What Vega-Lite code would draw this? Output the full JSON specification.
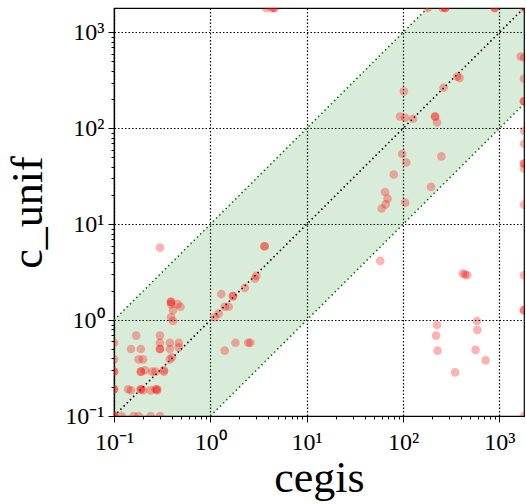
{
  "$schema": "https://vega.github.io/schema/vega-lite/v6.json",
  "width": 410,
  "height": 408,
  "autosize": {"type": "none"},
  "padding": {"left": 114, "top": 8, "right": 2, "bottom": 88},
  "background": "white",
  "config": {
    "view": {"stroke": "black", "strokeWidth": 1.2},
    "axis": {
      "domainColor": "black",
      "domainWidth": 1.2,
      "tickColor": "black",
      "labelFont": "Liberation Serif",
      "labelFontSize": 24,
      "labelColor": "black",
      "titleFont": "Liberation Serif",
      "titleFontSize": 44,
      "titleFontWeight": "normal",
      "titleColor": "black",
      "gridColor": "black",
      "gridDash": [1.5, 2],
      "gridWidth": 1.2
    }
  },
  "datasets": {
    "points": [
      {"cegis": 3.8, "c_unif": 1800}, {"cegis": 4.3, "c_unif": 1800}, {"cegis": 4.6, "c_unif": 1800}, {"cegis": 4.6, "c_unif": 1800},
      {"cegis": 181, "c_unif": 1800}, {"cegis": 257, "c_unif": 1800}, {"cegis": 274, "c_unif": 1800}, {"cegis": 274, "c_unif": 1800},
      {"cegis": 890, "c_unif": 1800}, {"cegis": 900, "c_unif": 1800}, {"cegis": 1800, "c_unif": 1800},
      {"cegis": 1660, "c_unif": 562}, {"cegis": 1800, "c_unif": 545}, {"cegis": 1800, "c_unif": 330},
      {"cegis": 1800, "c_unif": 192}, {"cegis": 1800, "c_unif": 192}, {"cegis": 1800, "c_unif": 94},
      {"cegis": 1800, "c_unif": 69}, {"cegis": 1800, "c_unif": 43}, {"cegis": 1800, "c_unif": 43},
      {"cegis": 1800, "c_unif": 38}, {"cegis": 1800, "c_unif": 16}, {"cegis": 1800, "c_unif": 2.94},
      {"cegis": 1800, "c_unif": 1.27}, {"cegis": 1800, "c_unif": 1.27}, {"cegis": 1800, "c_unif": 0.1},
      {"cegis": 365, "c_unif": 347}, {"cegis": 386, "c_unif": 336}, {"cegis": 263, "c_unif": 265},
      {"cegis": 102, "c_unif": 243}, {"cegis": 93, "c_unif": 133}, {"cegis": 105, "c_unif": 129},
      {"cegis": 127, "c_unif": 126}, {"cegis": 215, "c_unif": 133}, {"cegis": 215, "c_unif": 133},
      {"cegis": 225, "c_unif": 115}, {"cegis": 98, "c_unif": 54}, {"cegis": 108, "c_unif": 44},
      {"cegis": 250, "c_unif": 51}, {"cegis": 80, "c_unif": 33}, {"cegis": 65, "c_unif": 21.7},
      {"cegis": 69, "c_unif": 18.5}, {"cegis": 66, "c_unif": 16.1}, {"cegis": 60, "c_unif": 14.6},
      {"cegis": 105, "c_unif": 16.8}, {"cegis": 195, "c_unif": 24.5}, {"cegis": 58, "c_unif": 4.15},
      {"cegis": 417, "c_unif": 3.06}, {"cegis": 464, "c_unif": 2.94}, {"cegis": 440, "c_unif": 3.0},
      {"cegis": 586, "c_unif": 0.98}, {"cegis": 225, "c_unif": 0.89}, {"cegis": 220, "c_unif": 0.69},
      {"cegis": 228, "c_unif": 0.48}, {"cegis": 590, "c_unif": 0.79}, {"cegis": 566, "c_unif": 0.49},
      {"cegis": 720, "c_unif": 0.38}, {"cegis": 347, "c_unif": 0.285},
      {"cegis": 0.30, "c_unif": 5.7}, {"cegis": 3.65, "c_unif": 5.9}, {"cegis": 3.65, "c_unif": 5.9},
      {"cegis": 3.0, "c_unif": 2.9}, {"cegis": 2.9, "c_unif": 2.7}, {"cegis": 2.28, "c_unif": 2.17},
      {"cegis": 1.72, "c_unif": 1.78}, {"cegis": 1.72, "c_unif": 1.78}, {"cegis": 1.30, "c_unif": 1.87},
      {"cegis": 1.55, "c_unif": 1.38}, {"cegis": 1.41, "c_unif": 1.38}, {"cegis": 1.22, "c_unif": 1.17},
      {"cegis": 1.11, "c_unif": 1.07}, {"cegis": 1.41, "c_unif": 0.48}, {"cegis": 1.82, "c_unif": 0.58},
      {"cegis": 2.47, "c_unif": 0.58}, {"cegis": 2.6, "c_unif": 0.58},
      {"cegis": 0.39, "c_unif": 1.55}, {"cegis": 0.39, "c_unif": 1.55}, {"cegis": 0.39, "c_unif": 1.47},
      {"cegis": 0.41, "c_unif": 1.27}, {"cegis": 0.49, "c_unif": 1.38}, {"cegis": 0.457, "c_unif": 1.47},
      {"cegis": 0.39, "c_unif": 1.07}, {"cegis": 0.41, "c_unif": 0.98}, {"cegis": 0.17, "c_unif": 0.69},
      {"cegis": 0.30, "c_unif": 0.69},
      {"cegis": 0.1, "c_unif": 0.58}, {"cegis": 0.38, "c_unif": 0.58}, {"cegis": 0.47, "c_unif": 0.58},
      {"cegis": 0.30, "c_unif": 0.58}, {"cegis": 0.30, "c_unif": 0.50}, {"cegis": 0.30, "c_unif": 0.50},
      {"cegis": 0.15, "c_unif": 0.50}, {"cegis": 0.19, "c_unif": 0.50}, {"cegis": 0.38, "c_unif": 0.50},
      {"cegis": 0.47, "c_unif": 0.52},
      {"cegis": 0.1, "c_unif": 0.39}, {"cegis": 0.18, "c_unif": 0.39}, {"cegis": 0.20, "c_unif": 0.39},
      {"cegis": 0.38, "c_unif": 0.39}, {"cegis": 0.40, "c_unif": 0.41},
      {"cegis": 0.1, "c_unif": 0.29}, {"cegis": 0.1, "c_unif": 0.29}, {"cegis": 0.19, "c_unif": 0.29},
      {"cegis": 0.19, "c_unif": 0.29}, {"cegis": 0.21, "c_unif": 0.30}, {"cegis": 0.25, "c_unif": 0.29},
      {"cegis": 0.27, "c_unif": 0.29}, {"cegis": 0.33, "c_unif": 0.29}, {"cegis": 0.33, "c_unif": 0.30},
      {"cegis": 0.1, "c_unif": 0.19}, {"cegis": 0.1, "c_unif": 0.19}, {"cegis": 0.14, "c_unif": 0.19},
      {"cegis": 0.15, "c_unif": 0.185}, {"cegis": 0.19, "c_unif": 0.19}, {"cegis": 0.19, "c_unif": 0.19},
      {"cegis": 0.20, "c_unif": 0.185}, {"cegis": 0.24, "c_unif": 0.185}, {"cegis": 0.27, "c_unif": 0.19},
      {"cegis": 0.28, "c_unif": 0.185}, {"cegis": 0.28, "c_unif": 0.19},
      {"cegis": 0.1, "c_unif": 0.1}, {"cegis": 0.1, "c_unif": 0.1}, {"cegis": 0.1, "c_unif": 0.1},
      {"cegis": 0.12, "c_unif": 0.1}, {"cegis": 0.16, "c_unif": 0.1}, {"cegis": 0.18, "c_unif": 0.1},
      {"cegis": 0.24, "c_unif": 0.1}, {"cegis": 0.30, "c_unif": 0.1}
    ],
    "band": [
      {"cegis": 0.1, "lo": 0.01, "hi": 1},
      {"cegis": 1800, "lo": 180, "hi": 18000}
    ],
    "lines": [
      {"cegis": 0.1, "c_unif": 0.1, "line": "equal"},
      {"cegis": 1800, "c_unif": 1800, "line": "equal"},
      {"cegis": 0.1, "c_unif": 1, "line": "upper"},
      {"cegis": 180, "c_unif": 1800, "line": "upper"},
      {"cegis": 1, "c_unif": 0.1, "line": "lower"},
      {"cegis": 1800, "c_unif": 180, "line": "lower"}
    ]
  },
  "layer": [
    {
      "data": {"name": "band"},
      "mark": {"type": "area", "clip": true, "color": "green", "opacity": 0.15},
      "encoding": {
        "x": {
          "field": "cegis", "type": "quantitative",
          "scale": {"type": "log", "domain": [0.1, 1800], "nice": false},
          "axis": {
            "title": "cegis",
            "values": [0.1,0.2,0.3,0.4,0.5,0.6,0.7,0.8,0.9,1,2,3,4,5,6,7,8,9,10,20,30,40,50,60,70,80,90,100,200,300,400,500,600,700,800,900,1000],
            "labelExpr": "datum.value == 0.1 ? '10⁻¹' : datum.value == 1 ? '10⁰' : datum.value == 10 ? '10¹' : datum.value == 100 ? '10²' : datum.value == 1000 ? '10³' : ''",
            "tickSize": {"condition": {"test": "indexof([0.1,1,10,100,1000], datum.value) >= 0", "value": 6}, "value": 3},
            "gridOpacity": {"condition": {"test": "indexof([0.1,1,10,100,1000], datum.value) >= 0", "value": 1}, "value": 0},
            "labelPadding": 8,
            "titlePadding": 2,
            "labelFlush": false,
            "labelOverlap": false
          }
        },
        "y": {
          "field": "lo", "type": "quantitative",
          "scale": {"type": "log", "domain": [0.1, 1800], "nice": false},
          "axis": {
            "title": "c_unif",
            "values": [0.1,0.2,0.3,0.4,0.5,0.6,0.7,0.8,0.9,1,2,3,4,5,6,7,8,9,10,20,30,40,50,60,70,80,90,100,200,300,400,500,600,700,800,900,1000],
            "labelExpr": "datum.value == 0.1 ? '10⁻¹' : datum.value == 1 ? '10⁰' : datum.value == 10 ? '10¹' : datum.value == 100 ? '10²' : datum.value == 1000 ? '10³' : ''",
            "tickSize": {"condition": {"test": "indexof([0.1,1,10,100,1000], datum.value) >= 0", "value": 6}, "value": 3},
            "gridOpacity": {"condition": {"test": "indexof([0.1,1,10,100,1000], datum.value) >= 0", "value": 1}, "value": 0},
            "labelPadding": 4,
            "titlePadding": 14,
            "labelFlush": false,
            "labelOverlap": false
          }
        },
        "y2": {"field": "hi"}
      }
    },
    {
      "data": {"name": "lines"},
      "mark": {"type": "line", "clip": true, "strokeDash": [1.5, 3], "strokeWidth": 1.6},
      "encoding": {
        "x": {"field": "cegis", "type": "quantitative"},
        "y": {"field": "c_unif", "type": "quantitative"},
        "detail": {"field": "line"},
        "color": {
          "field": "line", "type": "nominal",
          "scale": {"domain": ["equal", "upper", "lower"], "range": ["black", "green", "green"]},
          "legend": null
        }
      }
    },
    {
      "data": {"name": "points"},
      "mark": {"type": "circle", "clip": true, "color": "red", "opacity": 0.3, "size": 75},
      "encoding": {
        "x": {"field": "cegis", "type": "quantitative"},
        "y": {"field": "c_unif", "type": "quantitative"}
      }
    }
  ]
}
